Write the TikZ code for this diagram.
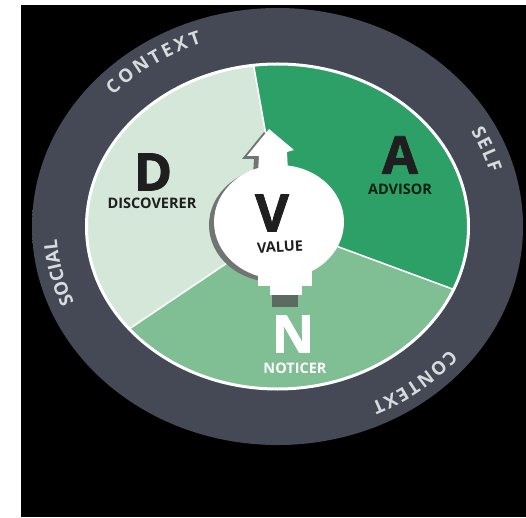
\documentclass[tikz,border=0pt]{standalone}
\usepackage{fontspec}
\setmainfont{Open Sans}
\usetikzlibrary{decorations.text}

\definecolor{discoverer}{HTML}{D4E7D8}
\definecolor{advisor}{HTML}{2CA066}
\definecolor{noticer}{HTML}{80BE94}
\definecolor{ringin}{HTML}{454955}
\definecolor{ringmid}{HTML}{393C46}
\definecolor{ringout}{HTML}{26282E}
\definecolor{ringtext}{HTML}{D6DBDD}
\definecolor{bulbshadow}{HTML}{707472}
\definecolor{stemgrey}{HTML}{5B6B61}
\colorlet{inkdark}{black!88}

\pgfdeclareradialshading{ringshade}{\pgfpoint{0bp}{0bp}}{%
  color(0bp)=(ringin); color(37bp)=(ringin); color(45bp)=(ringmid);
  color(49bp)=(ringout); color(50bp)=(black!85)}

\newcommand\ringfont{\fontsize{18.5}{18.5}\selectfont\bfseries}

\tikzset{
  dvan/letter/.style={inner sep=0pt, text=inkdark,
      font=\fontsize{52}{52}\selectfont\bfseries\addfontfeature{FakeBold=1.5}},
  dvan/role/.style={inner sep=0pt, text=inkdark, font=\fontsize{14.5}{14.5}\selectfont\bfseries},
  dvan/divider/.style={white, line width=1.6pt},
  dvan/ring/.style={decorate, decoration={text along path, text align={fit to path},
      text color=ringtext, text={|\ringfont|#1}}},
}

\begin{document}
\begin{tikzpicture}[x=1pt, y=1pt]
  \useasboundingbox (0,0) rectangle (526,517);
  \fill[black] (21,0) rectangle (526,512);
  \coordinate (c) at (277.5,290.5);
  \coordinate (hub) at (282,291);
  \shade[shading=ringshade] (c) ellipse [x radius=245.5pt, y radius=218.5pt];

  % the three roles
  \begin{scope}
    \clip (c) ellipse [x radius=191pt, y radius=162.5pt];
    \fill[noticer] (0,0) rectangle (526,517);
    \coordinate (da) at (195,783);
    \coordinate (dn) at (-159,-6);
    \coordinate (an) at (777,108);
    \fill[discoverer] (hub) -- (da) -- (-400,800) -- (-400,-6) -- (dn) -- cycle;
    \fill[advisor] (hub) -- (da) -- (900,800) -- (900,108) -- (an) -- cycle;
    \draw[dvan/divider] (hub) -- (da) (hub) -- (an) (hub) -- (dn);
  \end{scope}
  \draw[white, line width=3pt] (c) ellipse [x radius=191pt, y radius=162.5pt];

  % words round the ring
  \path[dvan/ring=CONTEXT] (c) ++(138:221 and 195)
    arc[start angle=138, end angle=110, x radius=221pt, y radius=195pt];
  \path[dvan/ring=SELF] (c) ++(29:221 and 195)
    arc[start angle=29, end angle=16, x radius=221pt, y radius=195pt];
  \path[dvan/ring=SOCIAL] (c) ++(203:221 and 195)
    arc[start angle=203, end angle=185, x radius=221pt, y radius=195pt];
  \path[dvan/ring=CONTEXT] (c) ++(-39:221 and 195)
    arc[start angle=-39, end angle=-65, x radius=221pt, y radius=195pt];

  % value bulb
  \begin{scope}[shift={(-5,-3)}]
    \fill[bulbshadow] (279,295) ellipse [x radius=65pt, y radius=57pt];
    \fill[bulbshadow] (269,388) -- (294,367) -- (287,365) -- (288,345)
      -- (258,345) -- (259,361) -- (247,361) -- cycle;
  \end{scope}
  \fill[white] (279,295) ellipse [x radius=65pt, y radius=57pt];
  \fill[white] (269,388) -- (294,367) -- (287,365) -- (288,345)
    -- (258,345) -- (259,361) -- (247,361) -- cycle;
  \fill[white] (258,231) rectangle (312,248);
  \fill[white] (270,222) rectangle (302,232);
  \fill[stemgrey] (272,210) rectangle (298,222);

  \node[dvan/letter] (vLetter) at (272,304) {V};
  \node[dvan/role, rotate=3] (vRole) at (280,270) {VALUE};
  \node[dvan/letter] (dLetter) at (153,345) {D};
  \node[dvan/role] (dRole) at (152,313.5) {DISCOVERER};
  \node[dvan/letter] (aLetter) at (400,362) {A};
  \node[dvan/role, text=black!80!advisor] (aRole) at (400,328) {ADVISOR};
  \node[dvan/letter, text=white] (nLetter) at (293,183) {N};
  \node[dvan/role, text=white] (nRole) at (295,149) {NOTICER};
\end{tikzpicture}
\end{document}
